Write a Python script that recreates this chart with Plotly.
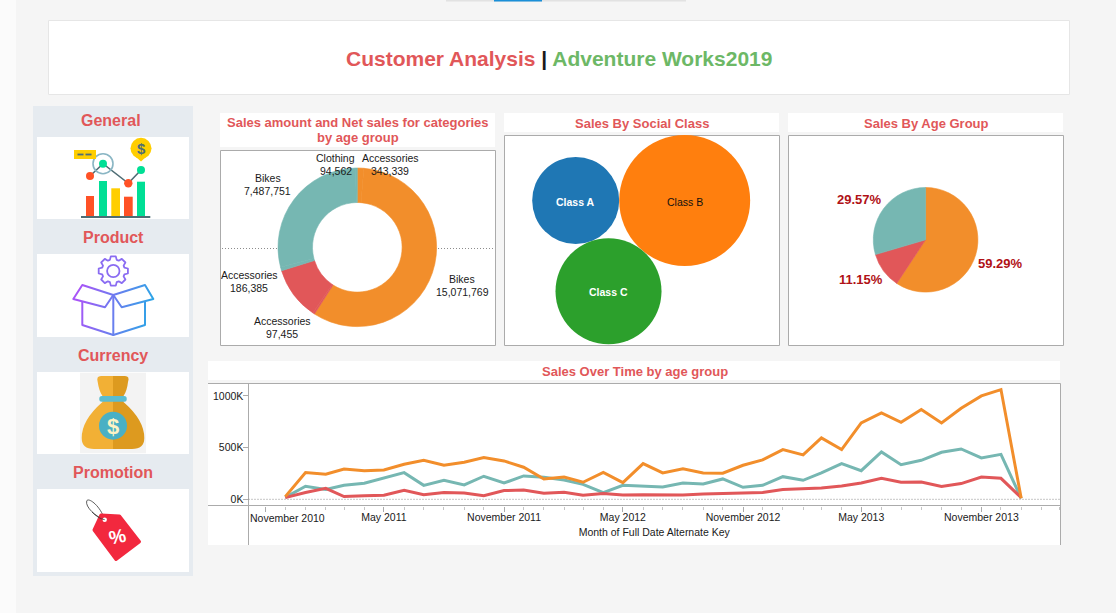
import base64, math
import pandas as pd
import plotly.graph_objects as go

W, H = 1116, 613
FONT = "Liberation Sans"
RED, GREEN = "#E15759", "#6DB866"
ORANGE, TEAL = "#F28E2B", "#76B7B2"

# ---------- data ----------
donut_categories = ["Accessories", "Bikes", "Accessories", "Bikes", "Accessories", "Bikes", "Clothing"]
donut_ages = ["Older", "Older", "Youth", "Youth", "Adult", "Adult", "Adult"]
donut_values = [343339, 15071769, 97455, 2810000, 186385, 7487751, 94562]
donut_colors = [ORANGE, ORANGE, RED, RED, TEAL, TEAL, TEAL]

class_names = ["Class A", "Class B", "Class C"]
class_sales = [5490000, 12440000, 8150000]
class_colors = ["#1F77B4", "#FF7F0E", "#2CA02C"]
class_text = ["white", "#111111", "white"]

age_groups = ["Older", "Youth", "Adult"]
age_share = [59.29, 11.15, 29.57]
age_colors = [ORANGE, RED, TEAL]

months = pd.date_range("2010-12-01", "2014-01-01", freq="MS")
sales_orange = [26, 258, 242, 293, 277, 284, 339, 377, 329, 358, 403, 371, 310, 197, 216, 165, 261, 161, 345,
                255, 294, 255, 252, 329, 381, 481, 429, 594, 481, 739, 835, 745, 868, 739, 881, 1000, 1061, 10]
sales_teal = [19, 126, 94, 135, 155, 206, 258, 135, 184, 139, 223, 158, 226, 213, 187, 145, 65, 135, 129,
              119, 158, 148, 197, 116, 135, 219, 184, 255, 345, 277, 458, 335, 377, 455, 487, 400, 435, 10]
sales_red = [16, 65, 106, 26, 35, 39, 87, 45, 65, 61, 35, 84, 90, 58, 68, 39, 55, 42, 45,
             42, 42, 52, 55, 58, 65, 94, 103, 110, 129, 158, 203, 165, 168, 123, 152, 216, 203, 16]
y_ticks = [0, 500, 1000]
y_labels = ["0K", "500K", "1000K"]
x_tick_dates = ["2010-11-01", "2011-05-01", "2011-11-01", "2012-05-01", "2012-11-01", "2013-05-01", "2013-11-01"]
x_tick_labels = ["November 2010", "May 2011", "November 2011", "May 2012", "November 2012", "May 2013", "November 2013"]

# ---------- page geometry helpers (pixels, y down) ----------
def px(x): return x / W
def py(y): return 1 - y / H

shapes, annotations, images = [], [], []
DOTS = "1px,2px"

def rect(x0, y0, x1, y1, fill="white", line=None, lw=1):
    shapes.append(dict(type="rect", xref="paper", yref="paper", layer="below",
                       x0=px(x0), x1=px(x1), y0=py(y1), y1=py(y0), fillcolor=fill,
                       line=dict(color=line or "rgba(0,0,0,0)", width=lw if line else 0)))

def seg(x0, y0, x1, y1, color="#ABABAB", dash="solid", lw=1):
    shapes.append(dict(type="line", xref="paper", yref="paper", layer="below",
                       x0=px(x0), x1=px(x1), y0=py(y0), y1=py(y1), line=dict(color=color, width=lw, dash=dash)))

def label(x, y, text, size=11, color="#1A1A1A", bold=False, angle=0, xanchor="center"):
    annotations.append(dict(xref="paper", yref="paper", x=px(x), y=py(y), text=f"<b>{text}</b>" if bold else text,
                            showarrow=False, xanchor=xanchor, yanchor="middle", align="center", textangle=angle,
                            font=dict(family=FONT, size=size, color=color), borderpad=0, borderwidth=0))

def icon(x0, y0, x1, y1, body, defs=""):
    svg = (f'<svg xmlns="http://www.w3.org/2000/svg" width="{x1-x0}" height="{y1-y0}" '
           f'viewBox="{x0} {y0} {x1-x0} {y1-y0}"><defs>{defs}</defs>{body}</svg>')
    images.append(dict(source="data:image/svg+xml;base64," + base64.b64encode(svg.encode()).decode(),
                       xref="paper", yref="paper", x=px(x0), y=py(y0), sizex=px(x1 - x0), sizey=(y1 - y0) / H,
                       xanchor="left", yanchor="top", sizing="stretch", layer="above"))

# ---------- page furniture ----------
rect(0, 0, 16, H, "#FBFBFB")
rect(446, 0, 686, 1.5, "#E2E2E2")
rect(494, 0, 542, 1.5, "#1A8FD8")
rect(48.5, 20.5, 1069.5, 94.5, "white", "#E6E6E6")
label(559, 58.5, f'<span style="color:{RED}">Customer Analysis</span> | '
                 f'<span style="color:{GREEN}">Adventure Works2019</span>', 21, "#1A1A1A", True)

rect(33, 106, 193, 576, "#E6EBF0")
for y0, y1, name, ty, tx in [(137, 219, "General", 120, 111), (254, 337, "Product", 237.5, 113),
                             (372, 454, "Currency", 355, 113), (489, 572, "Promotion", 472, 113)]:
    rect(37, y0, 189, y1)
    label(tx, ty, name, size=16, color=RED, bold=True)

# panels
TS = 13
rect(220, 113, 495, 147)
label(358, 122.5, "Sales amount and Net sales for categories", TS, RED, True)
label(358, 138, "by age group", TS, RED, True)
rect(220.5, 150.5, 495.5, 345.5, "white", "#ABABAB")
seg(222, 248.5, 277, 248.5, "#8C8C8C", DOTS)
seg(438, 248.5, 495, 248.5, "#8C8C8C", DOTS)

rect(504, 113, 779, 132)
label(642, 123.5, "Sales By Social Class", TS, RED, True)
rect(504.5, 135.5, 779.5, 345.5, "white", "#ABABAB")

rect(788, 113, 1063, 132)
label(926, 123.5, "Sales By Age Group", TS, RED, True)
rect(788.5, 135.5, 1063.5, 345.5, "white", "#ABABAB")

rect(208, 361, 1060, 380)
label(634.5, 371, "Sales Over Time by age group", TS, RED, True)
rect(208, 383, 1060, 545)
seg(208, 383.5, 1060.5, 383.5)
seg(208, 505.5, 1060.5, 505.5)
seg(248.5, 383.5, 248.5, 545)
seg(1060.5, 383.5, 1060.5, 545)

# ---------- icons ----------
STEEL = "#4F6D75"
icon(37, 137, 189, 219, f'''
<rect x="86" y="196" width="8" height="20" fill="#FF5126"/><rect x="99" y="181" width="8" height="35" fill="#00DF95"/>
<rect x="111.3" y="188.3" width="8.7" height="27.7" fill="#FFCE00"/><rect x="124" y="196.7" width="8.7" height="19.3" fill="#FF5126"/>
<rect x="137" y="181.7" width="8" height="34.3" fill="#00DF95"/><rect x="81" y="216" width="69.3" height="2" fill="{STEEL}"/>
<polyline points="90,176 103,163.7 128.3,183.3 141,170" fill="none" stroke="{STEEL}" stroke-width="1.6"/>
<circle cx="103" cy="163.7" r="10" fill="none" stroke="#8AB6C4" stroke-width="1.6"/>
<circle cx="90" cy="176" r="4" fill="#FF5126"/><circle cx="103" cy="163.7" r="4" fill="#00DF95"/>
<circle cx="128.3" cy="183.3" r="4.2" fill="#FF5126"/><circle cx="141" cy="170" r="4" fill="#00DF95"/>
<rect x="74" y="150" width="22" height="9" fill="#FFCE00"/>
<rect x="77.5" y="153.6" width="6" height="1.8" fill="{STEEL}"/><rect x="85.5" y="153.6" width="6" height="1.8" fill="{STEEL}"/>
<path d="M136,157 L141,161.5 L146,157 Z" fill="#FFCE00"/><circle cx="141" cy="148.3" r="10.5" fill="#FFCE00"/>
''')
label(141, 148.5, "$", 15, STEEL, True)

gear = []
for i in range(8):
    mid = i * math.pi / 4
    for da, r in [(-0.30, 11.6), (-0.17, 14.8), (0.17, 14.8), (0.30, 11.6)]:
        a = mid + da
        gear.append(f"{113.3 + r * math.sin(a):.1f},{271 - r * math.cos(a):.1f}")
gear_points = " ".join(gear)
box_grad = ('<linearGradient id="g" gradientUnits="userSpaceOnUse" x1="78" y1="300" x2="150" y2="312">'
            '<stop offset="0" stop-color="#A855F7"/><stop offset="1" stop-color="#2FA4E7"/></linearGradient>')
icon(37, 254, 189, 337, f'''
<polygon points="{gear_points}" fill="white" stroke="#8A6CF2" stroke-width="1.8" stroke-linejoin="round"/>
<circle cx="113.3" cy="271" r="6.2" fill="none" stroke="#8A6CF2" stroke-width="1.8"/>
<g fill="white" stroke="url(#g)" stroke-width="2" stroke-linejoin="round" stroke-linecap="round">
<polyline points="82.3,296.7 82.3,325 113.3,335 145,325 145,301.7" fill="none"/>
<line x1="113.3" y1="295" x2="113.3" y2="335"/>
<polygon points="82.3,285 113.3,295 105,307.3 73.3,299"/>
<polygon points="145,285 113.3,295 121.7,307.3 153.3,299"/>
</g>''', box_grad)

icon(37, 372, 189, 454, '''
<rect x="80" y="372.7" width="66" height="80.6" fill="#F3F3F3"/>
<path d="M113,376 H101 Q96,376 97.7,382 Q99,391 102.5,396 V402 Q81.7,420 81.7,438 Q81.7,449 94,449 H113 Z" fill="#F2B035"/>
<path d="M113,376 H125 Q130,376 128,382 Q127,391 123.5,396 V402 Q144.3,420 144.3,438 Q144.3,449 132,449 H113 Z" fill="#DD9A1F"/>
<rect x="99.3" y="396" width="27.4" height="5.7" rx="2.5" fill="#5BBCCF"/>
<circle cx="113" cy="425.7" r="14" fill="#4AB0C4"/>''')
label(113, 426, "$", 22, "#FDF3C4", True)

icon(37, 489, 189, 572, '''
<path d="M104.7,519.7 C96,517 85,507 86.7,501 C88,497 100,505 104.7,519.7" fill="none" stroke="#333" stroke-width="0.8"/>
<polygon points="101,515 119.5,516 139.5,541.7 116,559.5 94,530" fill="#F2283E" stroke="#F2283E" stroke-width="3" stroke-linejoin="round"/>
<circle cx="104.7" cy="519.7" r="2.2" fill="white"/>
<path d="M104.7,519.7 C100,519 96,516 92,512" fill="none" stroke="#333" stroke-width="0.8"/>''')
label(117.5, 536.5, "%", 19, "white", True, angle=-12)

# ---------- traces ----------
fig = go.Figure()

def square_domain(cx, cy, r):
    return dict(x=[px(cx - r), px(cx + r)], y=[py(cy + r), py(cy - r)])

# labels must be unique or the pie merges the slices that share a category
fig.add_trace(go.Pie(labels=[f"{a} {c}" for a, c in zip(donut_ages, donut_categories)], values=donut_values,
                     sort=False, direction="clockwise", rotation=0,
                     hole=0.565, textinfo="none",
                     marker=dict(colors=donut_colors, line=dict(width=0.6, color=donut_colors)),
                     domain=square_domain(357.3, 247.3, 79.3), showlegend=False))
fig.add_trace(go.Pie(labels=age_groups, values=age_share, sort=False, direction="clockwise", rotation=0,
                     textinfo="none", marker=dict(colors=age_colors, line=dict(width=0.6, color=age_colors)),
                     domain=square_domain(925.6, 239.8, 52.3), showlegend=False))

# bubble pack: diameters follow value, the three circles are mutually tangent
k = 87 / math.sqrt(class_sales[0])
radii = [k * math.sqrt(v) / 2 for v in class_sales]
ab, ac, bc = radii[0] + radii[1], radii[0] + radii[2], radii[1] + radii[2]
cx = (ac**2 - bc**2 + ab**2) / (2 * ab)
cy = -math.sqrt(ac**2 - cx**2)
fig.add_trace(go.Scatter(x=[0, ab, cx], y=[0, 0, cy], mode="markers", text=class_names,
                         marker=dict(size=[2 * r for r in radii], color=class_colors, line=dict(width=0), opacity=1),
                         xaxis="x2", yaxis="y2", showlegend=False, cliponaxis=False))
for bx, by, name, col in zip([0, ab, cx], [0, 0, cy], class_names, class_text):
    annotations.append(dict(xref="x2", yref="y2", x=bx, y=by, text=f"<b>{name}</b>" if col == "white" else name,
                            showarrow=False, xanchor="center", yanchor="middle", yshift=-1,
                            font=dict(family=FONT, size=10.5, color=col)))

for vals, col in [(sales_teal, TEAL), (sales_red, RED), (sales_orange, ORANGE)]:
    fig.add_trace(go.Scatter(x=months, y=vals, mode="lines", line=dict(color=col, width=3),
                             xaxis="x", yaxis="y", showlegend=False, cliponaxis=False))

shapes.append(dict(type="line", xref="paper", yref="y", layer="below", x0=px(248.5), x1=px(1060), y0=0, y1=0,
                   line=dict(color="#8C8C8C", width=1, dash=DOTS)))

# ---------- text labels ----------
for x, y, i in [(390, 164.5, 0), (462, 285.7, 1), (282, 327.5, 2), (249.3, 281.7, 4), (267.7, 184.5, 5), (335.7, 164.5, 6)]:
    label(x, y - 6.5, donut_categories[i], 10.5)
    label(x, y + 6.5, f"{donut_values[i]:,}", 10.5)

PIECT = "#B01116"
label(860, 199.5, f"{age_share[2]}%", 13, PIECT, True)
label(1000.5, 263, f"{age_share[0]}%", 13, PIECT, True)
label(860.5, 279.5, f"{age_share[1]}%", 13, PIECT, True)
label(287, 518, x_tick_labels[0], 10.5)

# ---------- layout ----------
fig.update_layout(
    width=W, height=H, margin=dict(l=0, r=0, t=0, b=0, pad=0), autosize=False,
    paper_bgcolor="#F5F5F5", plot_bgcolor="rgba(0,0,0,0)",
    font=dict(family=FONT, size=11, color="#1A1A1A"), hovermode=False,
    shapes=shapes, annotations=annotations, images=images,
    xaxis=dict(domain=[px(248.5), px(1060)], range=["2010-10-05 16:00", "2014-03-01 10:00"], type="date",
               tickmode="array", tickvals=x_tick_dates, ticktext=[""] + x_tick_labels[1:],
               ticks="outside", ticklen=5, tickcolor="#ABABAB", tickfont=dict(size=10.5, color="#1A1A1A"),
               ticklabelstandoff=-3,
               minor=dict(dtick="M1", tick0="2010-11-01", ticks="outside", ticklen=3, tickcolor="#C4C4C4", showgrid=False),
               showgrid=False, zeroline=False, showline=False,
               title=dict(text="Month of Full Date Alternate Key", font=dict(size=10.5, color="#1A1A1A"), standoff=6)),
    yaxis=dict(domain=[py(505.5), py(383.5)], range=[-60, 1120], tickmode="array", tickvals=y_ticks, ticktext=y_labels,
               ticks="outside", ticklen=5, tickcolor="#ABABAB", tickfont=dict(size=10.5, color="#1A1A1A"),
               ticklabelstandoff=-3, showgrid=False, zeroline=False, showline=False),
    xaxis2=dict(domain=[px(504.5), px(779.5)], range=[504.5 - 575.7, 779.5 - 575.7], visible=False, fixedrange=True),
    yaxis2=dict(domain=[py(345.5), py(135.5)], range=[200.5 - 345.5, 200.5 - 135.5], visible=False, fixedrange=True),
)

fig.write_html("out.html", config=dict(displayModeBar=False, responsive=False),
               post_script="document.body.style.margin='0';document.body.style.overflow='hidden';")
